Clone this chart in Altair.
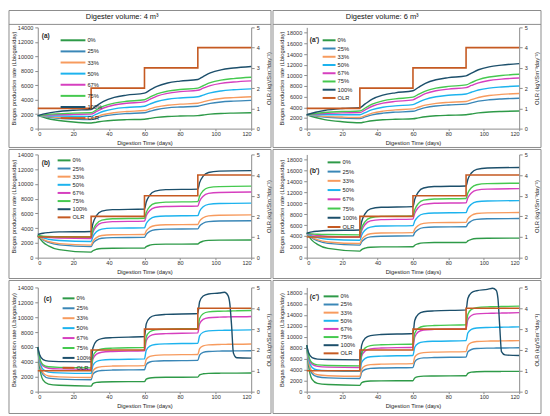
import altair as alt
import pandas as pd

SERIES = ["0%", "25%", "33%", "50%", "67%", "75%", "100%"]
COLORS = ["#2e9a48", "#3a87b7", "#f79b5e", "#1db3ee", "#d63fbf", "#45c94f", "#1c4f6b"]
OLR_COLOR = "#c55a22"

# OLR step profile
T_OLR = [0, 30, 60, 90, 120]
OLR = [1, 2, 3, 4, 4]

# ---- (a) / (a') time grid
T_A = [0, 5, 10, 20, 30, 33, 37, 43, 50, 60, 63, 67, 73, 80, 90, 93, 97, 103, 110, 120]
A4_0 = [1800, 1440, 1190, 910, 780, 890, 1040, 1165, 1240, 1300, 1410, 1550, 1670, 1740, 1800, 1890, 2000, 2100, 2150, 2200]
A4_25 = [1800, 1610, 1470, 1320, 1250, 1460, 1725, 1950, 2090, 2200, 2400, 2650, 2870, 2990, 3100, 3280, 3500, 3690, 3800, 3900]
A4_33 = [1800, 1660, 1560, 1450, 1400, 1640, 1950, 2210, 2370, 2500, 2720, 3000, 3240, 3380, 3500, 3700, 3950, 4170, 4290, 4400]
A4_50 = [1800, 1765, 1740, 1710, 1700, 2010, 2400, 2740, 2930, 3100, 3390, 3750, 4060, 4240, 4400, 4640, 4950, 5210, 5370, 5500]
A4_67 = [1800, 1870, 1920, 1970, 2000, 2370, 2850, 3260, 3500, 3700, 4050, 4500, 4880, 5110, 5300, 5590, 5950, 6260, 6440, 6600]
A4_75 = [1800, 1940, 2040, 2150, 2200, 2600, 3100, 3530, 3780, 4000, 4350, 4800, 5180, 5410, 5600, 5930, 6350, 6710, 6920, 7100]
A4_100 = [1800, 2100, 2310, 2540, 2650, 3150, 3780, 4320, 4630, 4900, 5320, 5850, 6310, 6570, 6800, 7200, 7700, 8130, 8380, 8600]

A6_0 = [2600, 2080, 1700, 1300, 1100, 1270, 1480, 1660, 1760, 1850, 2020, 2230, 2410, 2510, 2600, 2750, 2950, 3120, 3220, 3300]
A6_25 = [2600, 2360, 2180, 1990, 1900, 2200, 2580, 2900, 3090, 3250, 3550, 3930, 4250, 4440, 4600, 4840, 5150, 5410, 5570, 5700]
A6_33 = [2600, 2430, 2300, 2170, 2100, 2450, 2900, 3280, 3510, 3700, 4010, 4400, 4740, 4930, 5100, 5430, 5850, 6210, 6420, 6600]
A6_50 = [2600, 2600, 2600, 2600, 2600, 3020, 3550, 4010, 4270, 4500, 4940, 5500, 5980, 6260, 6500, 6830, 7250, 7610, 7820, 8000]
A6_67 = [2600, 2740, 2840, 2950, 3000, 3530, 4200, 4780, 5110, 5400, 5910, 6550, 7100, 7420, 7700, 8100, 8600, 9030, 9280, 9500]
A6_75 = [2600, 2850, 3020, 3210, 3300, 3870, 4600, 5220, 5590, 5900, 6410, 7050, 7600, 7920, 8200, 8640, 9200, 9680, 9960, 10200]
A6_100 = [2600, 3070, 3410, 3770, 3950, 4640, 5530, 6280, 6720, 7100, 7720, 8500, 9170, 9560, 9900, 10410, 11050, 11600, 11920, 12200]

# ---- (b) / (b') time grid
T_B = [0, 1, 3, 6, 12, 30, 31, 33, 36, 42, 60, 61, 63, 66, 72, 90, 91, 93, 96, 102, 120]
B4_0 = [3000, 2660, 2100, 1600, 1090, 750, 940, 1140, 1250, 1280, 1300, 1490, 1690, 1800, 1830, 1850, 2040, 2240, 2350, 2380, 2400]
B4_25 = [3000, 2780, 2400, 2070, 1730, 1500, 1940, 2380, 2630, 2710, 2750, 3150, 3560, 3790, 3870, 3900, 4290, 4670, 4890, 4970, 5000]
B4_33 = [3000, 2800, 2480, 2190, 1900, 1700, 2210, 2720, 3000, 3110, 3150, 3620, 4100, 4370, 4460, 4500, 4960, 5410, 5670, 5760, 5800]
B4_50 = [3000, 2880, 2680, 2500, 2320, 2200, 2850, 3500, 3870, 4000, 4050, 4630, 5200, 5540, 5650, 5700, 6300, 6890, 7230, 7350, 7400]
B4_67 = [3000, 2940, 2840, 2750, 2660, 2600, 3420, 4250, 4720, 4880, 4950, 5670, 6390, 6800, 6940, 7000, 7670, 8330, 8710, 8840, 8900]
B4_75 = [3000, 2970, 2920, 2880, 2830, 2800, 3690, 4590, 5100, 5270, 5350, 6140, 6930, 7380, 7530, 7600, 8340, 9070, 9490, 9640, 9700]
B4_100 = [3150, 3210, 3310, 3400, 3490, 3550, 4620, 5690, 6300, 6510, 6600, 7550, 8490, 9030, 9220, 9300, 10180, 11050, 11550, 11730, 11800]

B6_0 = [4500, 4000, 3180, 2450, 1700, 1200, 1480, 1760, 1920, 1980, 2000, 2280, 2560, 2720, 2780, 2800, 3080, 3360, 3520, 3580, 3600]
B6_25 = [4500, 4170, 3620, 3140, 2630, 2300, 2900, 3490, 3830, 3950, 4000, 4600, 5190, 5530, 5650, 5700, 6230, 6750, 7050, 7160, 7200]
B6_33 = [4500, 4220, 3740, 3320, 2890, 2600, 3300, 4000, 4400, 4540, 4600, 5270, 5930, 6310, 6440, 6500, 7130, 7760, 8120, 8250, 8300]
B6_50 = [4500, 4300, 3980, 3690, 3400, 3200, 4150, 5090, 5630, 5820, 5900, 6740, 7580, 8060, 8230, 8300, 9070, 9840, 10280, 10430, 10500]
B6_67 = [4500, 4400, 4220, 4070, 3900, 3800, 4960, 6110, 6770, 7000, 7100, 8150, 9200, 9800, 10010, 10100, 11010, 11920, 12440, 12620, 12700]
B6_75 = [4500, 4460, 4380, 4310, 4250, 4200, 5430, 6650, 7350, 7600, 7700, 8820, 9940, 10580, 10800, 10900, 11880, 12860, 13420, 13620, 13700]
B6_100 = [4500, 4590, 4740, 4870, 5010, 5100, 6610, 8110, 8970, 9270, 9400, 10730, 12060, 12820, 13090, 13200, 14390, 15580, 16260, 16500, 16600]

# ---- (c) / (c') time grid
T_C = [0, 1, 3, 6, 12, 30, 31, 33, 36, 42, 60, 61, 63, 66, 72, 90, 91, 93, 96, 102, 105, 107, 108, 109, 110, 112, 120]
C4_0 = [6000, 3380, 1540, 1010, 860, 750, 1080, 1240, 1300, 1330, 1350, 1680, 1840, 1900, 1930, 1950, 2250, 2400, 2460, 2480, 2490, 2490, 2490, 2495, 2495, 2495, 2500]
C4_25 = [6000, 3800, 2260, 1820, 1690, 1600, 2340, 2710, 2840, 2900, 2950, 3640, 3980, 4100, 4150, 4200, 4920, 5270, 5400, 5450, 5460, 5470, 5470, 5470, 5480, 5480, 5500]
C4_33 = [6000, 3950, 2520, 2100, 1980, 1900, 2780, 3210, 3370, 3440, 3500, 4330, 4730, 4880, 4940, 5000, 5770, 6150, 6290, 6340, 6350, 6360, 6360, 6360, 6370, 6370, 6400]
C4_50 = [6000, 4230, 2980, 2630, 2520, 2450, 3520, 4050, 4240, 4320, 4400, 5560, 6120, 6330, 6420, 6500, 7490, 7980, 8160, 8230, 8240, 8250, 8250, 8260, 8260, 8270, 8300]
C4_67 = [6000, 4500, 3450, 3150, 3060, 3000, 4380, 5050, 5300, 5400, 5500, 6820, 7470, 7710, 7800, 7900, 9110, 9700, 9920, 10010, 10030, 10040, 10050, 10050, 10060, 10060, 10100]
C4_75 = [6000, 4600, 3620, 3340, 3260, 3200, 4710, 5460, 5730, 5840, 5950, 7350, 8040, 8300, 8400, 8500, 9820, 10470, 10710, 10800, 10820, 10830, 10840, 10840, 10850, 10860, 10900]
C4_100 = [6000, 5000, 4300, 4100, 4040, 4000, 5870, 6790, 7130, 7260, 7400, 9100, 9940, 10250, 10380, 10500, 12070, 12840, 13120, 13250, 13350, 12900, 11800, 8800, 5200, 4550, 4500]

C6_0 = [8500, 4830, 2250, 1520, 1300, 1150, 1620, 1850, 1930, 1970, 2000, 2500, 2740, 2830, 2860, 2900, 3340, 3560, 3640, 3670, 3680, 3680, 3680, 3680, 3690, 3690, 3700]
C6_25 = [8500, 5450, 3320, 2710, 2520, 2400, 3500, 4040, 4240, 4320, 4400, 5450, 5960, 6150, 6220, 6300, 7240, 7690, 7860, 7930, 7940, 7950, 7950, 7960, 7960, 7970, 8000]
C6_33 = [8500, 5650, 3660, 3090, 2910, 2800, 4070, 4690, 4920, 5010, 5100, 6310, 6900, 7120, 7210, 7300, 8400, 8940, 9140, 9220, 9230, 9240, 9240, 9250, 9250, 9260, 9300]
C6_50 = [8500, 6100, 4420, 3940, 3800, 3700, 5300, 6080, 6370, 6480, 6600, 8090, 8810, 9080, 9190, 9300, 10680, 11350, 11600, 11700, 11720, 11730, 11740, 11740, 11750, 11760, 11800]
C6_67 = [8500, 6450, 5020, 4610, 4480, 4400, 6440, 7430, 7800, 7950, 8100, 9970, 10890, 11230, 11360, 11500, 13100, 13880, 14170, 14280, 14300, 14310, 14320, 14320, 14330, 14340, 14400]
C6_75 = [8500, 6600, 5270, 4890, 4780, 4700, 6900, 7980, 8380, 8540, 8700, 10630, 11570, 11920, 12060, 12200, 14070, 14990, 15330, 15460, 15480, 15500, 15500, 15510, 15520, 15530, 15600]
C6_100 = [8500, 7150, 6200, 5940, 5850, 5800, 8440, 9740, 10220, 10410, 10600, 12970, 14130, 14560, 14730, 14900, 16990, 18020, 18400, 18650, 18850, 18500, 17000, 12000, 7300, 6700, 6600]

X_TICKS = [0, 20, 40, 60, 80, 100, 120]
Y_TICKS_4 = [0, 2000, 4000, 6000, 8000, 10000, 12000, 14000]
Y_TICKS_6 = [0, 2000, 4000, 6000, 8000, 10000, 12000, 14000, 16000, 18000]
OLR_TICKS = [0, 1, 2, 3, 4, 5]

FONT = "Liberation Sans"
GRAY = "#8c8c8c"


def long_df(times, arrays):
    recs = []
    for name, arr in zip(SERIES, arrays):
        for t, v in zip(times, arr):
            recs.append({"t": t, "v": v, "s": name})
    return pd.DataFrame(recs)


OLR_DF = pd.DataFrame({"t": T_OLR, "olr": OLR, "s": ["OLR"] * len(T_OLR)})
DUMMY = pd.DataFrame({"d": [0]})


def make_panel(times, arrays, ymax, yticks, W, H, box, label, lab_xy, leg,
               ytx, header=None):
    x0, x1, y0, y1 = box
    cscale = alt.Scale(domain=SERIES + ["OLR"], range=COLORS + [OLR_COLOR])
    L = leg["L"]
    legend = alt.Legend(
        orient="none", legendX=leg["x"], legendY=leg["y"], title=None,
        symbolType=f"M-{L/4},0L{L/4},0", symbolSize=16, symbolStrokeWidth=2,
        labelFontSize=5.8, labelOffset=L / 2 - 1, rowPadding=leg["rp"],
        padding=0, labelColor="#222222", labelFont=FONT,
    )
    ax_common = dict(domainColor=GRAY, tickColor=GRAY, labelColor="#333333",
                     titleColor="#1a1a1a", labelFontSize=5.6, titleFontSize=5.8,
                     titleFontWeight="normal", grid=False, labelFont=FONT,
                     titleFont=FONT)
    xenc = alt.X("t:Q", scale=alt.Scale(domain=[0, 120], nice=False),
                 axis=alt.Axis(values=X_TICKS, title="Digestion Time (days)",
                               tickSize=2, labelPadding=1, titlePadding=2,
                               **ax_common))
    bio = alt.Chart(long_df(times, arrays)).mark_line(
        strokeWidth=1.4, interpolate="monotone").encode(
        x=xenc,
        y=alt.Y("v:Q", scale=alt.Scale(domain=[0, ymax], nice=False),
                axis=alt.Axis(values=yticks, format="d",
                              title="Biogas production rate (Lbiogas/day)",
                              tickSize=3, labelPadding=2, titleX=ytx,
                              titleY=H / 2, titleAngle=270,
                              titleBaseline="middle", **ax_common)),
        color=alt.Color("s:N", scale=cscale, legend=legend),
    )
    olr = alt.Chart(OLR_DF).mark_line(
        strokeWidth=1.6, interpolate="step-after").encode(
        x=xenc,
        y=alt.Y("olr:Q", scale=alt.Scale(domain=[0, 5], nice=False),
                axis=alt.Axis(orient="right", values=OLR_TICKS,
                              title="OLR (kgVSm⁻³day⁻¹)", tickSize=3,
                              labelPadding=2, titleX=17, titleY=H / 2,
                              titleAngle=270, titleBaseline="middle",
                              **ax_common)),
        color=alt.Color("s:N", scale=cscale, legend=legend),
    )
    frame = alt.Chart(DUMMY).mark_rect(
        fill="transparent", stroke=GRAY, strokeWidth=1).encode(
        x=alt.value(x0), x2=alt.value(x1), y=alt.value(y0), y2=alt.value(y1))
    lab = alt.Chart(DUMMY).mark_text(
        align="left", baseline="middle", fontSize=6.5, fontWeight="bold",
        color="#222222", font=FONT).encode(
        x=alt.value(lab_xy[0]), y=alt.value(lab_xy[1]), text=alt.value(label))
    layers = [frame]
    if header is not None:
        htxt, hx = header
        layers.append(alt.Chart(DUMMY).mark_rule(stroke=GRAY, strokeWidth=1).encode(
            x=alt.value(x0), x2=alt.value(x1), y=alt.value(-3)))
        layers.append(alt.Chart(DUMMY).mark_text(
            fontSize=7.5, color="#111111", font=FONT, baseline="middle").encode(
            x=alt.value(hx), y=alt.value(-10), text=alt.value(htxt)))
    layers += [bio, olr, lab]
    return alt.layer(*layers).resolve_scale(y="independent").properties(
        width=W, height=H)


W1, W2 = 215, 214
H1, H2, H3 = 102, 104, 105

pa = make_panel(T_A, [A4_0, A4_25, A4_33, A4_50, A4_67, A4_75, A4_100], 14000, Y_TICKS_4,
                W1, H1, (-29, W1 + 20, -17, H1 + 19), "(a)", (4, 9),
                dict(L=25, x=32.5, y=10, rp=3.2), -24.5,
                header=("Digester volume: 4 m³", 85))
pa2 = make_panel(T_A, [A6_0, A6_25, A6_33, A6_50, A6_67, A6_75, A6_100], 19000, Y_TICKS_6,
                 W2, H1, (-34, W2 + 22, -17, H1 + 19), "(a')", (3, 13),
                 dict(L=13, x=19.5, y=10, rp=0.3), -25,
                 header=("Digester volume: 6 m³", 76))
pb = make_panel(T_B, [B4_0, B4_25, B4_33, B4_50, B4_67, B4_75, B4_100], 14000, Y_TICKS_4,
                W1, H2, (-29, W1 + 20, -5, H2 + 21), "(b)", (4, 9),
                dict(L=13, x=23.5, y=3, rp=0.2), -24.5)
pb2 = make_panel(T_B, [B6_0, B6_25, B6_33, B6_50, B6_67, B6_75, B6_100], 19000, Y_TICKS_6,
                 W2, H2, (-34, W2 + 22, -5, H2 + 21), "(b')", (3, 17),
                 dict(L=13, x=24.5, y=5, rp=1.3), -25)
pc = make_panel(T_C, [C4_0, C4_25, C4_33, C4_50, C4_67, C4_75, C4_100], 14000, Y_TICKS_4,
                W1, H3, (-29, W1 + 20, -7, H3 + 22), "(c)", (6, 12),
                dict(L=12, x=28, y=8, rp=2), -24.5)
pc2 = make_panel(T_C, [C6_0, C6_25, C6_33, C6_50, C6_67, C6_75, C6_100], 19000, Y_TICKS_6,
                 W2, H3, (-34, W2 + 22, -7, H3 + 22), "(c')", (3, 10),
                 dict(L=15, x=21.5, y=6, rp=0.2), -25)


def row(p, q):
    return alt.hconcat(p, q, spacing=0).resolve_scale(
        color="independent", x="independent", y="independent").resolve_legend(
        color="independent")


chart = alt.vconcat(row(pa, pa2), row(pb, pb2), row(pc, pc2), spacing=0).resolve_scale(
    color="independent", x="independent", y="independent").resolve_legend(
    color="independent").properties(padding=0, background="white").configure(
    font=FONT).configure_view(stroke=None)

chart.save("out.html", embed_options={"renderer": "svg", "actions": False})
